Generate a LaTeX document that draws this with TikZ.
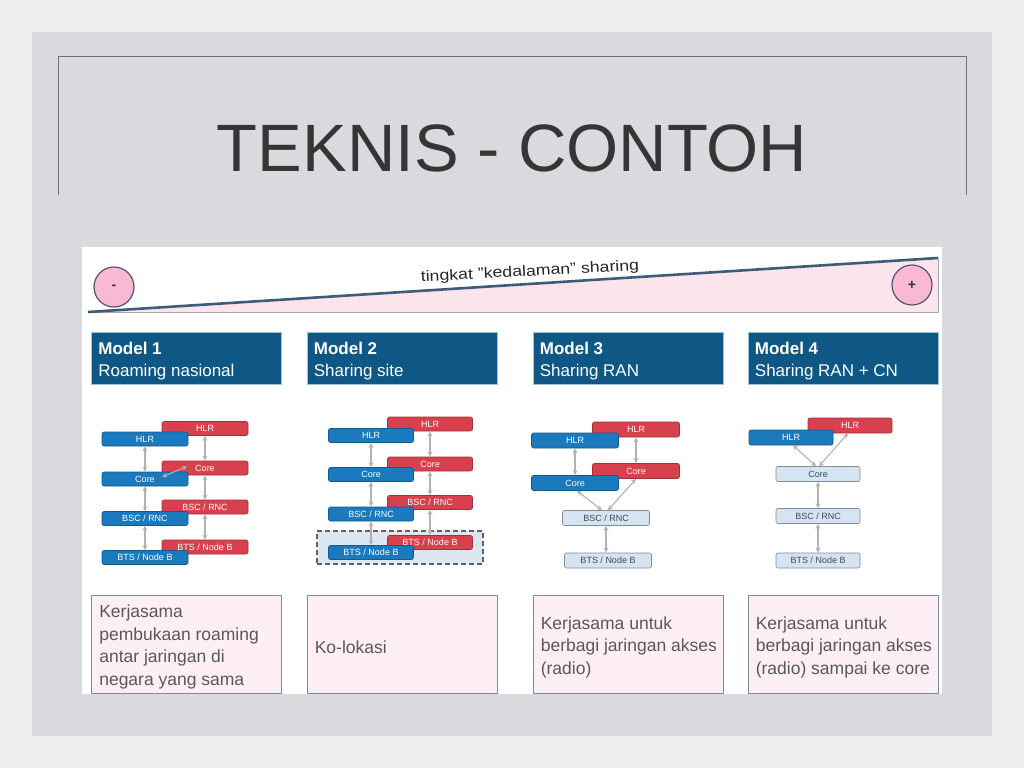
\documentclass[tikz,border=0pt]{standalone}
\usepackage{fontspec}
\setmainfont{Liberation Sans}
\usetikzlibrary{arrows.meta}
\definecolor{outerbg}{HTML}{EEEEF0}
\definecolor{slidebg}{HTML}{D9D9DE}
\definecolor{framegray}{HTML}{707075}
\definecolor{titlegray}{HTML}{353535}
\definecolor{hdrblue}{HTML}{0F5784}
\definecolor{hdredge}{HTML}{9CC3E0}
\definecolor{boxblue}{HTML}{1B79BD}
\definecolor{boxred}{HTML}{D8404E}
\definecolor{lightbox}{HTML}{D6E4F1}
\definecolor{lightedge}{HTML}{7F8C9A}
\definecolor{darktext}{HTML}{3C4B5C}
\definecolor{pinkbox}{HTML}{FDEFF5}
\definecolor{pinkedge}{HTML}{7D8BA0}
\definecolor{wedgepink}{HTML}{FCE4ED}
\definecolor{wedgeline}{HTML}{3F5B7A}
\definecolor{circpink}{HTML}{F9B9D2}
\definecolor{circedge}{HTML}{4F5570}
\definecolor{conngray}{HTML}{B2B2B2}
\definecolor{bodytext}{HTML}{595959}
\definecolor{sharedfill}{HTML}{DCE6F0}
\begin{document}
\begin{tikzpicture}[x=1pt,y=-1pt,
  hdr/.style={fill=hdrblue, draw=hdredge, line width=0.6pt, minimum width=190pt, minimum height=52pt, inner sep=0pt},
  hdrtxt/.style={anchor=west, align=left, inner sep=0pt, text=white, font=\fontsize{17}{22}\selectfont},
  pinkbx/.style={fill=pinkbox, draw=pinkedge, line width=0.8pt, minimum width=190pt, minimum height=98pt, inner sep=0pt},
  bodytxt/.style={anchor=west, align=left, text=bodytext, inner sep=0pt, font=\fontsize{17.5}{22.5}\selectfont},
  nbox/.style={rounded corners=2pt, minimum width=86pt, minimum height=14pt, inner sep=0pt, font=\fontsize{9}{9}\selectfont, line width=0.6pt},
  bluebx/.style={nbox, fill=boxblue, draw=boxblue!75!black, text=white},
  redbx/.style={nbox, fill=boxred, draw=boxred!75!black, text=white},
  lightbx/.style={nbox, fill=lightbox, draw=lightedge, text=darktext, minimum height=15pt},
  conn/.style={draw=conngray, line width=1.1pt, {Stealth[length=5pt,width=5pt]}-{Stealth[length=5pt,width=5pt]}},
  circ/.style={circle, fill=circpink, draw=circedge, line width=1.2pt, minimum size=40pt, inner sep=0pt, font=\bfseries\fontsize{14}{14}\selectfont, text=black!80}
]
\useasboundingbox (0,0) rectangle (1024,768);
% backgrounds
\fill[outerbg] (0,0) rectangle (1024,768);
\fill[slidebg] (32,32) rectangle (992,736);
\draw[framegray, line width=0.8pt] (58,195) -- (58,56) -- (966,56) -- (966,195);
\node[font=\fontsize{67}{67}\selectfont, text=titlegray, inner sep=0pt] (title) at (512,148) {TEKNIS - CONTOH};
\fill[white] (82,247) rectangle (942,694);

% wedge
\fill[wedgepink] (88,312) -- (938,258) -- (938,312) -- cycle;
\draw[gray!70, line width=0.7pt] (88,312) -- (938,312) -- (938,258);
\draw[wedgeline, line width=2.6pt] (88,312) -- (938,258);
\node[rotate=3.0, xscale=1.18, inner sep=0pt, text=black!85, font=\fontsize{15}{15}\selectfont] (depth) at (530,272) {tingkat "kedalaman" sharing};
\node[circ] (minus) at (114,287) {-};
\node[circ] (plus) at (912,285) {+};

% headers
\node[hdr] (h1) at (186.5,358) {};
\node[hdr] (h2) at (402,358) {};
\node[hdr] (h3) at (628,358) {};
\node[hdr] (h4) at (843,358) {};
\node[hdrtxt] (ht1) at ([xshift=7pt,yshift=-3pt]h1.west) {\textbf{Model 1}\\Roaming nasional};
\node[hdrtxt] (ht2) at ([xshift=7pt,yshift=-3pt]h2.west) {\textbf{Model 2}\\Sharing site};
\node[hdrtxt] (ht3) at ([xshift=7pt,yshift=-3pt]h3.west) {\textbf{Model 3}\\Sharing RAN};
\node[hdrtxt] (ht4) at ([xshift=7pt,yshift=-3pt]h4.west) {\textbf{Model 4}\\Sharing RAN + CN};

% bottom boxes
\node[pinkbx] (p1) at (186.5,644) {};
\node[pinkbx] (p2) at (402,644) {};
\node[pinkbx] (p3) at (628,644) {};
\node[pinkbx] (p4) at (843,644) {};
\node[bodytxt] (t1) at ([xshift=8pt,yshift=-3pt]p1.west) {Kerjasama\\pembukaan roaming\\antar jaringan di\\negara yang sama};
\node[bodytxt] (t2) at ([xshift=8pt,yshift=-3pt]p2.west) {Ko-lokasi};
\node[bodytxt] (t3) at ([xshift=8pt,yshift=-3pt]p3.west) {Kerjasama untuk\\berbagi jaringan akses\\(radio)};
\node[bodytxt] (t4) at ([xshift=8pt,yshift=-3pt]p4.west) {Kerjasama untuk\\berbagi jaringan akses\\(radio) sampai ke core};

% ---------- Model 1
\node[redbx] (r1h) at (205,428.5) {HLR};
\node[redbx] (r1c) at (205,468) {Core};
\node[redbx] (r1s) at (205,507) {BSC / RNC};
\node[redbx] (r1t) at (205,547) {BTS / Node B};
\node[bluebx] (b1h) at (145,439) {HLR};
\node[bluebx] (b1c) at (145,479) {Core};
\node[bluebx] (b1s) at (145,518.5) {BSC / RNC};
\node[bluebx] (b1t) at (145,557.5) {BTS / Node B};
\draw[conn] (b1h.south) -- (b1c.north);
\draw[conn] (b1c.south) -- (b1s.north);
\draw[conn] (b1s.south) -- (b1t.north);
\draw[conn] (r1h.south) -- (r1c.north);
\draw[conn] (r1c.south) -- (r1s.north);
\draw[conn] (r1s.south) -- (r1t.north);
\coordinate (x1a) at (162,477);
\coordinate (x1b) at (187,466.5);
\draw[conn] (x1a) -- (x1b);

% ---------- Model 2
\node[fill=sharedfill, draw=gray!75!black, dashed, dash pattern=on 5pt off 3pt, line width=1.6pt, minimum width=166pt, minimum height=33pt, inner sep=0pt] (shared) at (400,547.5) {};
\node[redbx, minimum width=85pt] (r2h) at (430,424) {HLR};
\node[redbx, minimum width=85pt] (r2c) at (430,464) {Core};
\node[redbx, minimum width=85pt] (r2s) at (430,502.5) {BSC / RNC};
\node[redbx, minimum width=85pt] (r2t) at (430,542.5) {BTS / Node B};
\node[bluebx, minimum width=85pt] (b2h) at (371,435.5) {HLR};
\node[bluebx, minimum width=85pt] (b2c) at (371,474.5) {Core};
\node[bluebx, minimum width=85pt] (b2s) at (371,514) {BSC / RNC};
\node[bluebx, minimum width=85pt] (b2t) at (371,552.5) {BTS / Node B};
\draw[conn] (b2h.south) -- (b2c.north);
\draw[conn] (b2c.south) -- (b2s.north);
\draw[conn] (b2s.south) -- (b2t.north);
\draw[conn] (r2h.south) -- (r2c.north);
\draw[conn] (r2c.south) -- (r2s.north);
\draw[conn] (r2s.south) -- (r2t.north);

% ---------- Model 3
\node[redbx, minimum width=87pt, minimum height=15pt] (r3h) at (636,429.5) {HLR};
\node[redbx, minimum width=87pt, minimum height=15pt] (r3c) at (636,471) {Core};
\node[bluebx, minimum width=87pt, minimum height=15pt] (b3h) at (575,440.5) {HLR};
\node[bluebx, minimum width=87pt, minimum height=15pt] (b3c) at (575,483) {Core};
\node[lightbx, minimum width=87pt] (l3s) at (606,518) {BSC / RNC};
\node[lightbx, minimum width=87pt] (l3t) at (608,560.5) {BTS / Node B};
\draw[conn] (b3h.south) -- (b3c.north);
\draw[conn] (r3h.south) -- (r3c.north);
\draw[conn] ([xshift=2pt]b3c.south) -- ([xshift=-4pt]l3s.north);
\draw[conn] (r3c.south) -- ([xshift=2pt]l3s.north);
\draw[conn] (l3s.south) -- ([xshift=-2pt]l3t.north);

% ---------- Model 4
\node[redbx, minimum width=84pt, minimum height=15pt] (r4h) at (850,425.5) {HLR};
\node[bluebx, minimum width=84pt, minimum height=15pt] (b4h) at (791,437.5) {HLR};
\node[lightbx, minimum width=84pt] (l4c) at (818,474) {Core};
\node[lightbx, minimum width=84pt] (l4s) at (818,516) {BSC / RNC};
\node[lightbx, minimum width=84pt] (l4t) at (818,560.5) {BTS / Node B};
\draw[conn] ([xshift=2pt]b4h.south) -- ([xshift=-2pt]l4c.north);
\draw[conn] ([xshift=-2pt]r4h.south) -- ([xshift=1pt]l4c.north);
\draw[conn] (l4c.south) -- (l4s.north);
\draw[conn] (l4s.south) -- (l4t.north);
\end{tikzpicture}
\end{document}
